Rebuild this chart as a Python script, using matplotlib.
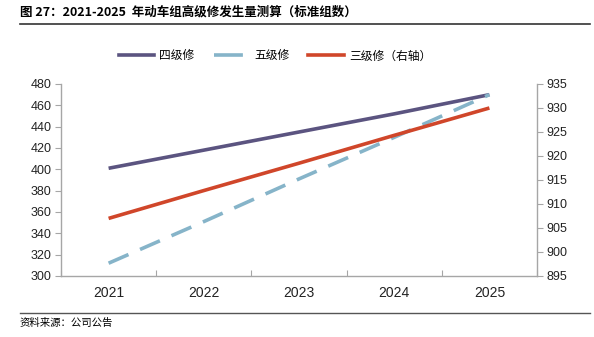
import matplotlib
matplotlib.use("Agg")
import matplotlib.pyplot as plt
from matplotlib.lines import Line2D

plt.rcParams['font.family'] = ['Liberation Sans', 'Noto Sans CJK SC', 'DejaVu Sans']

years = ['2021', '2022', '2023', '2024', '2025']
level4 = [401, 418, 435, 452, 470]
level5 = [312, 351, 391, 430, 470]
level3 = [907, 912.8, 918.5, 924.3, 930]

c4 = '#5B5480'
c5 = '#86B4C9'
c3 = '#D0462A'
axis_col = '#A6A6A6'

fig = plt.figure(figsize=(5.94, 3.37), dpi=100)
ax = fig.add_axes([61/594, 1-276/337, 476/594, 192/337])
ax2 = ax.twinx()

x = [i + 0.5 for i in range(len(years))]
ax.plot(x, level4, color=c4, lw=2.6, solid_capstyle='butt')
ax.plot(x, level5, color=c5, lw=2.6, dashes=(6, 3.5), dash_capstyle='butt')
ax2.plot(x, level3, color=c3, lw=2.6, solid_capstyle='butt')

ax.set_xlim(0, 5)
ax.set_ylim(300, 480)
ax.set_yticks(range(300, 481, 20))
ax2.set_ylim(895, 935)
ax2.set_yticks(range(895, 936, 5))

ax.set_xticks(range(0, 6))
ax.set_xticklabels([])
ax.set_xticks(x, minor=True)
ax.set_xticklabels(years, minor=True)
ax.tick_params(axis='x', which='minor', length=0, pad=7)
ax.tick_params(axis='x', which='major', length=4, direction='in', color=axis_col)

for a in (ax, ax2):
    for s in a.spines.values():
        s.set_visible(False)
    a.tick_params(labelsize=9, colors='#222222')
ax.spines['left'].set_visible(True)
ax.spines['bottom'].set_visible(True)
ax2.spines['right'].set_visible(True)
for s in (ax.spines['left'], ax.spines['bottom'], ax2.spines['right']):
    s.set_color(axis_col)
    s.set_linewidth(1.0)
ax.tick_params(axis='y', length=4, direction='out', color=axis_col, pad=3)
ax2.tick_params(axis='y', length=4, direction='out', color=axis_col, pad=3)
ax.tick_params(axis='x', which='both', colors='#222222')
ax.tick_params(axis='x', which='major', color=axis_col)

handles = [Line2D([], [], color=c4, lw=2.6),
           Line2D([], [], color=c5, lw=2.6, dashes=(8, 2.5, 2, 2.5)),
           Line2D([], [], color=c3, lw=2.6)]
labels = ['四级修', '五级修', '三级修（右轴）']
fig.legend(handles, labels, loc='center', bbox_to_anchor=(0.5 - 22/594, 1-56/337), ncol=3,
           frameon=False, handlelength=3.0, columnspacing=1.6,
           handletextpad=0.45, prop={'family': ['Noto Sans CJK SC'], 'size': 8.5})

fig.text(20/594, 1-12/337, '图 27：2021-2025  年动车组高级修发生量测算（标准组数）',
         fontsize=9, fontweight='bold', va='center', ha='left',
         family=['Noto Sans CJK SC'])
fig.add_artist(Line2D([20/594, 590/594], [1-24/337, 1-24/337], color='#333333', lw=1.2))
fig.add_artist(Line2D([20/594, 590/594], [1-313/337, 1-313/337], color='#555555', lw=1.0))
fig.text(20/594, 1-323/337, '资料来源：公司公告', fontsize=7.5, va='center', ha='left',
         family=['Noto Sans CJK SC'])

fig.savefig('out.png', dpi=100)
